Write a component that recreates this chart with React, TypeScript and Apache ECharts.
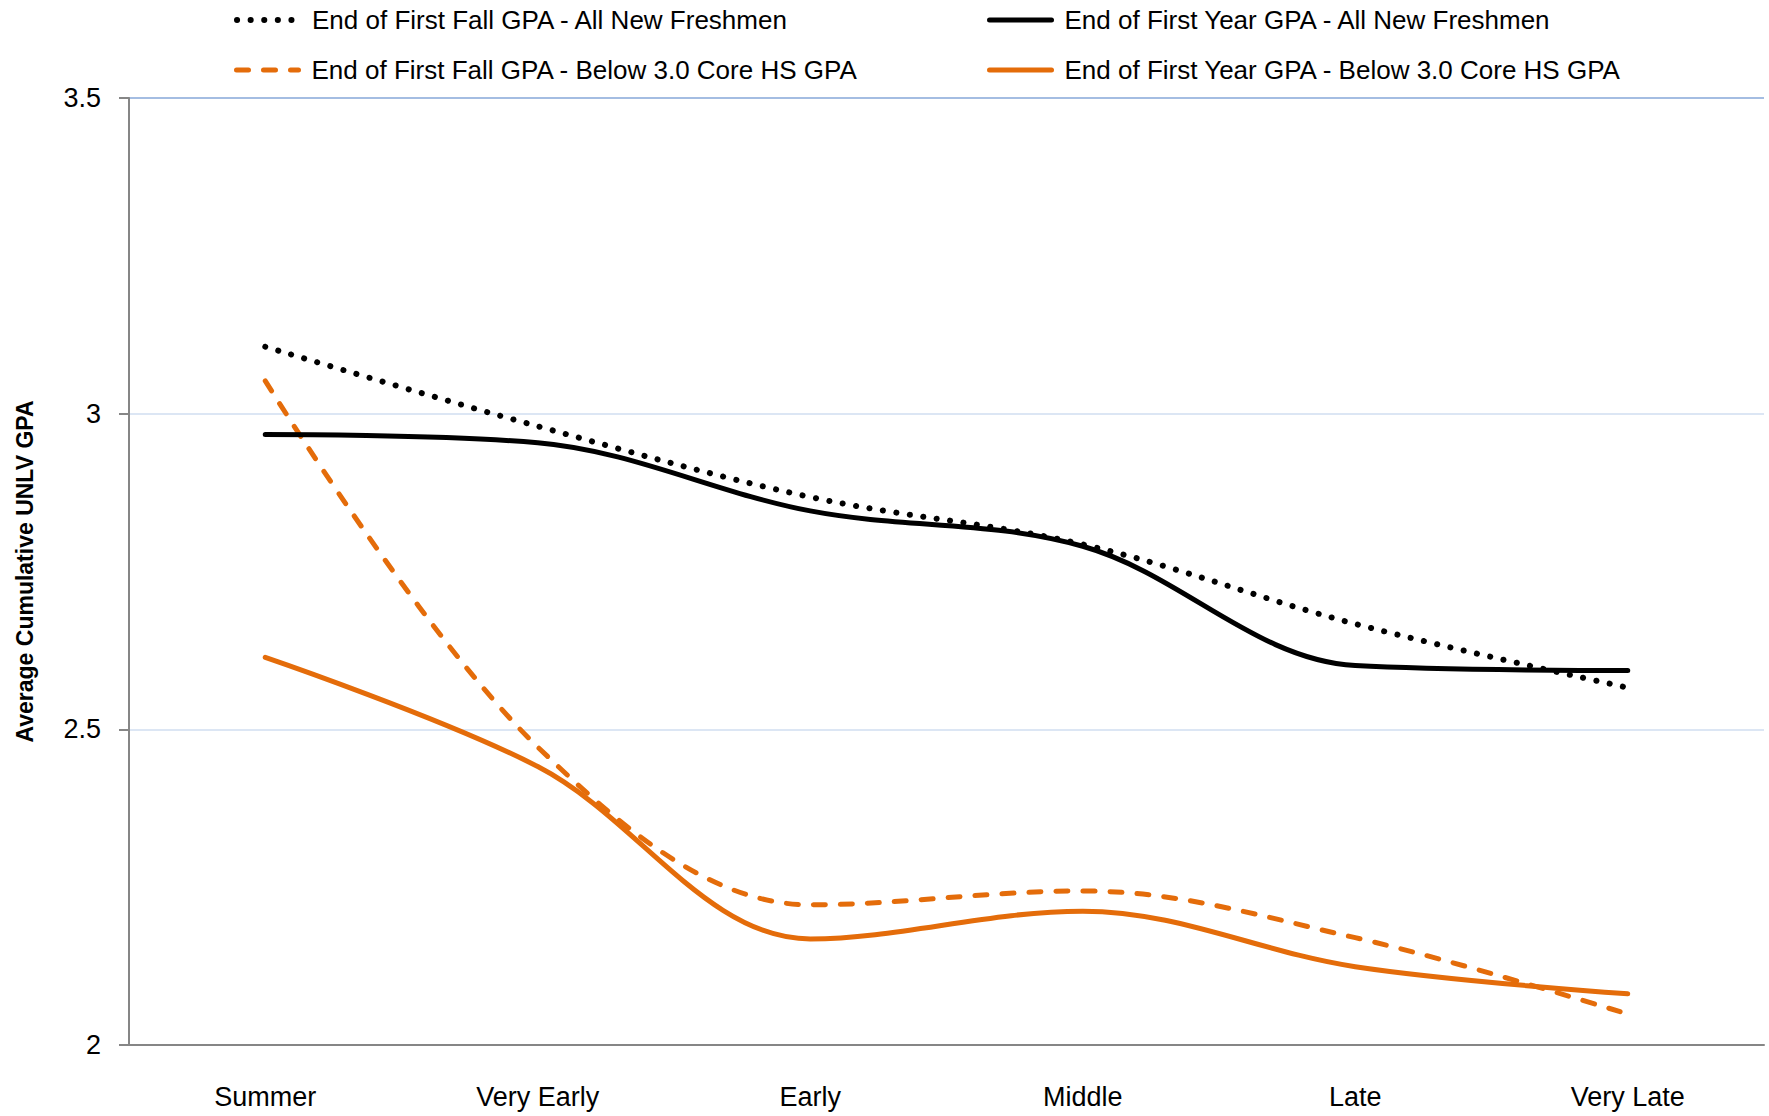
import React, { useEffect, useRef } from "react";
import * as echarts from "echarts";

const categories = ["Summer", "Very Early", "Early", "Middle", "Late", "Very Late"];
const fallAll = [3.106, 2.98, 2.868, 2.793, 2.667, 2.566];
const yearAll = [2.967, 2.954, 2.846, 2.79, 2.601, 2.593];
const fallBelow = [3.052, 2.472, 2.222, 2.244, 2.17, 2.049];
const yearBelow = [2.614, 2.441, 2.168, 2.212, 2.124, 2.081];

const names = [
  "End of First Fall GPA - All New Freshmen",
  "End of First Year GPA - All New Freshmen",
  "End of First Fall GPA - Below 3.0 Core HS GPA",
  "End of First Year GPA - Below 3.0 Core HS GPA",
];

const ORANGE = "#E46C0A";
const FONT = "'Liberation Sans', Arial, sans-serif";

export default function App() {
  const ref = useRef<HTMLDivElement>(null);
  useEffect(() => {
    if (!ref.current) return;
    const chart = echarts.init(ref.current, null, { renderer: "svg" });
    const legendBase = (name: string, left: number, top: number, w: number) => ({
      data: [name],
      left,
      top,
      padding: 0,
      itemWidth: 62,
      itemHeight: 14,
      selectedMode: false,
      itemStyle: { color: "transparent", borderWidth: 0, opacity: 0 },
      lineStyle: { width: w },
      textStyle: { fontSize: 26, color: "#000", fontFamily: FONT, padding: [0, 0, 0, 8] },
    });
    chart.setOption({
      animation: false,
      backgroundColor: "#fff",
      textStyle: { fontFamily: FONT },
      legend: [
        legendBase(names[0], 234, 7, 6),
        legendBase(names[1], 987, 7, 5),
        legendBase(names[2], 234, 57, 5),
        legendBase(names[3], 987, 57, 5),
      ],
      grid: { left: 129, right: 5, top: 98, bottom: 71, containLabel: false },
      xAxis: {
        type: "category",
        data: categories,
        boundaryGap: true,
        axisLine: { lineStyle: { color: "#868686", width: 2 } },
        axisTick: { show: false },
        axisLabel: { fontSize: 27, color: "#000", margin: 38, fontFamily: FONT },
      },
      yAxis: {
        type: "value",
        min: 2,
        max: 3.5,
        interval: 0.5,
        name: "Average Cumulative UNLV GPA",
        nameLocation: "middle",
        nameGap: 93,
        nameTextStyle: { fontSize: 23, fontWeight: "bold", color: "#000", fontFamily: FONT },
        axisLine: { show: true, lineStyle: { color: "#868686", width: 2 } },
        axisTick: { show: true, length: 10, lineStyle: { color: "#868686", width: 2 } },
        axisLabel: { fontSize: 27, color: "#000", margin: 28, fontFamily: FONT },
        splitLine: {
          show: true,
          lineStyle: { color: ["#dce6f4", "#dce6f4", "#dce6f4", "#a4bde2"], width: 2 },
        },
      },
      series: [
        {
          name: names[0],
          type: "line",
          data: fallAll,
          smooth: 0.35,
          symbol: "none",
          lineStyle: { color: "#000", width: 6, type: [0.1, 13.5], cap: "round" },
          itemStyle: { color: "#000" },
          z: 4,
        },
        {
          name: names[1],
          type: "line",
          data: yearAll,
          smooth: 0.35,
          symbol: "none",
          lineStyle: { color: "#000", width: 5, type: "solid", cap: "round" },
          itemStyle: { color: "#000" },
          z: 3,
        },
        {
          name: names[2],
          type: "line",
          data: fallBelow,
          smooth: 0.35,
          symbol: "none",
          lineStyle: { color: ORANGE, width: 5, type: [12, 15], cap: "round" },
          itemStyle: { color: ORANGE },
          z: 2,
        },
        {
          name: names[3],
          type: "line",
          data: yearBelow,
          smooth: 0.35,
          symbol: "none",
          lineStyle: { color: ORANGE, width: 5, type: "solid", cap: "round" },
          itemStyle: { color: ORANGE },
          z: 1,
        },
      ],
    });
    return () => chart.dispose();
  }, []);
  return (
    <div
      ref={ref}
      style={{ position: "fixed", left: 0, top: 0, width: 1769, height: 1116, background: "#fff" }}
    />
  );
}
